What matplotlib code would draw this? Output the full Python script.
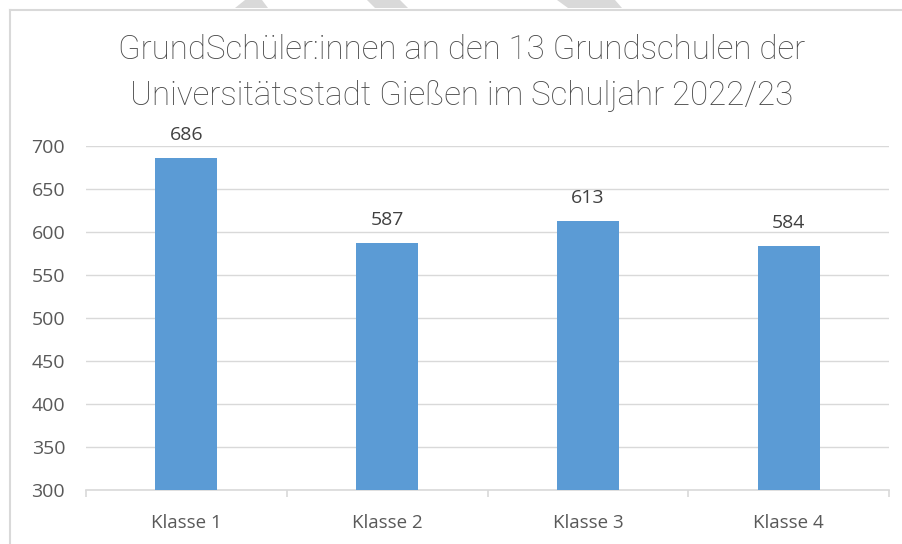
import matplotlib
matplotlib.use("Agg")
import matplotlib.pyplot as plt
from matplotlib.patches import Polygon

categories = ["Klasse 1", "Klasse 2", "Klasse 3", "Klasse 4"]
values = [686, 587, 613, 584]
yticks = [300, 350, 400, 450, 500, 550, 600, 650, 700]
title_lines = ["GrundSchüler:innen an den 13 Grundschulen der",
               "Universitätsstadt Gießen im Schuljahr 2022/23"]

W, H = 902, 544
fig = plt.figure(figsize=(W / 100, H / 100), dpi=100)
fig.patch.set_facecolor("white")

def fx(px):
    return px / W

def fy(py):
    return 1 - py / H

# chart border (left and top)
fig.add_artist(plt.Line2D([fx(9.5), fx(9.5)], [fy(9.5), 0], color="#d9d9d9", lw=1.5, transform=fig.transFigure))
fig.add_artist(plt.Line2D([fx(9.5), 1], [fy(9.5), fy(9.5)], color="#d9d9d9", lw=1.5, transform=fig.transFigure))

# watermark fragments above the border
for pts in [
    [(235, 8), (245, 0), (262, 0), (268, 8)],
    [(367, 0), (400, 0), (408, 8), (375, 8)],
    [(557, 0), (615, 0), (622, 8), (568, 8)],
]:
    fig.add_artist(Polygon([(fx(x), fy(y)) for x, y in pts], closed=True,
                           facecolor="#d9d9d9", edgecolor="none", transform=fig.transFigure))

ax = fig.add_axes([fx(86), fy(490), fx(889) - fx(86), fy(146) - fy(490)])
x = list(range(len(categories)))
ax.bar(x, values, width=0.31, color="#5b9bd5", zorder=3)
ax.set_xlim(-0.5, len(categories) - 0.5)
ax.set_ylim(300, 700)
ax.set_yticks(yticks)
ax.grid(axis="y", color="#d9d9d9", lw=1, zorder=0)
for s in ["top", "right", "left"]:
    ax.spines[s].set_visible(False)
ax.spines["bottom"].set_color("#d9d9d9")
ax.spines["bottom"].set_linewidth(1.2)

ax.tick_params(axis="y", length=0, pad=15, labelsize=14, labelcolor="#595959")
for lab in ax.get_yticklabels():
    lab.set_family("Open Sans")

ax.set_xticks([i - 0.5 for i in range(len(categories) + 1)])
ax.set_xticklabels([])
ax.tick_params(axis="x", which="major", length=5, color="#d9d9d9", width=1.2)
ax.set_xticks(x, minor=True)
ax.set_xticklabels(categories, minor=True, fontsize=13.5, color="#595959", family="Open Sans")
ax.tick_params(axis="x", which="minor", length=0, pad=17)

for xi, v in zip(x, values):
    ax.annotate(str(v), (xi, v), xytext=(0, 10), textcoords="offset points",
                ha="center", va="bottom", fontsize=14, color="#404040", family="Open Sans")

for txt, ypx in zip(title_lines, [50, 96]):
    fig.text(fx(462), fy(ypx), txt, ha="center", va="center", fontsize=23.8,
             color="#4a4a4a", family="Roboto", fontweight="light")

fig.savefig("out.png", dpi=100)
